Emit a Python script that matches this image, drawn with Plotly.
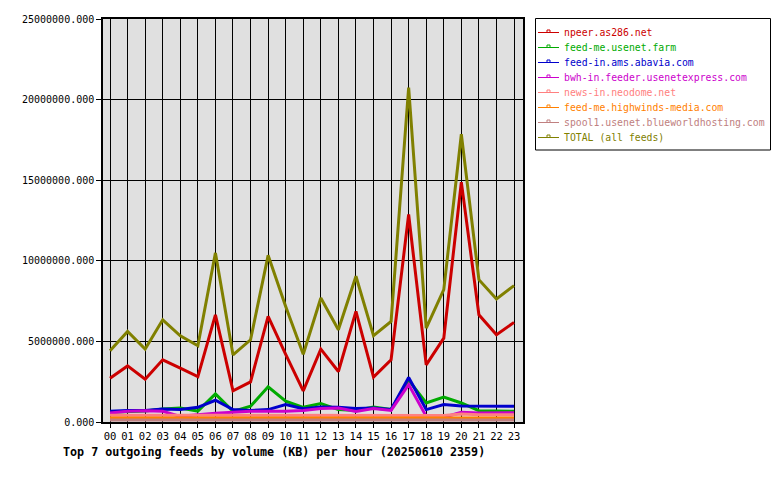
import plotly.graph_objects as go

hours = [f"{h:02d}" for h in range(24)]

names = [
    "npeer.as286.net",
    "feed-me.usenet.farm",
    "feed-in.ams.abavia.com",
    "bwh-in.feeder.usenetexpress.com",
    "news-in.neodome.net",
    "feed-me.highwinds-media.com",
    "spool1.usenet.blueworldhosting.com",
    "TOTAL (all feeds)",
]
colors = ["#cc0000", "#00aa00", "#0000cc", "#cc00cc", "#ff8080", "#ff8000", "#c08080", "#808000"]

npeer = [2.72, 3.48, 2.65, 3.86, 3.34, 2.82, 6.65, 1.93, 2.49, 6.55, 4.2, 1.93,
         4.52, 3.13, 6.86, 2.78, 3.86, 12.87, 3.54, 5.2, 14.88, 6.65, 5.41, 6.18]
usenet_farm = [0.6, 0.66, 0.68, 0.8, 0.87, 0.68, 1.74, 0.66, 0.98, 2.18, 1.29, 0.91,
               1.14, 0.77, 0.72, 0.93, 0.77, 2.6, 1.18, 1.54, 1.18, 0.7, 0.66, 0.66]
abavia = [0.66, 0.72, 0.72, 0.81, 0.77, 0.91, 1.35, 0.77, 0.72, 0.77, 1.08, 0.83,
          0.93, 0.91, 0.83, 0.87, 0.77, 2.76, 0.77, 1.08, 1.0, 0.98, 0.98, 0.98]
usenetexpress = [0.56, 0.66, 0.7, 0.66, 0.35, 0.45, 0.55, 0.6, 0.66, 0.66, 0.66, 0.72,
                 0.83, 0.87, 0.66, 0.83, 0.72, 2.32, 0.35, 0.3, 0.6, 0.56, 0.58, 0.58]
neodome = [0.42, 0.42, 0.45, 0.45, 0.42, 0.45, 0.45, 0.45, 0.45, 0.45, 0.45, 0.45,
           0.45, 0.43, 0.43, 0.45, 0.45, 0.43, 0.41, 0.41, 0.5, 0.45, 0.45, 0.45]
highwinds = [0.25, 0.25, 0.24, 0.23, 0.25, 0.24, 0.26, 0.25, 0.24, 0.25, 0.25, 0.24,
             0.25, 0.24, 0.25, 0.25, 0.24, 0.26, 0.25, 0.24, 0.24, 0.25, 0.24, 0.25]
blueworld = [0.12, 0.12, 0.12, 0.12, 0.12, 0.12, 0.12, 0.12, 0.12, 0.12, 0.12, 0.12,
             0.12, 0.12, 0.12, 0.12, 0.12, 0.12, 0.12, 0.12, 0.12, 0.12, 0.12, 0.12]
total = [4.42, 5.62, 4.52, 6.34, 5.35, 4.73, 10.49, 4.17, 5.1, 10.34, 7.17, 4.2,
         7.69, 5.72, 9.04, 5.35, 6.24, 20.75, 5.83, 8.21, 17.85, 8.83, 7.63, 8.46]

series = [npeer, usenet_farm, abavia, usenetexpress, neodome, highwinds, blueworld, total]
yticks = [0, 5000000, 10000000, 15000000, 20000000, 25000000]
title = "Top 7 outgoing feeds by volume (KB) per hour (20250610 2359)"

MONO = "DejaVu Sans Mono, Liberation Mono, monospace"

fig = go.Figure()
for name, col, vals in zip(names, colors, series):
    fig.add_trace(go.Scatter(
        x=hours, y=[v * 1e6 for v in vals], mode="lines", name=name,
        line=dict(color=col, width=3), showlegend=False,
    ))

# plot area pixels: x 103..523, y 19..422
L, R, T, B = 103, 523, 19, 422
def px(xp):
    return (xp - L) / (R - L)
def py(yp):
    return (B - yp) / (B - T)

shapes = []
annotations = []
# legend box
shapes.append(dict(type="rect", xref="paper", yref="paper",
                   x0=px(535.5), x1=px(770.5), y0=py(150), y1=py(18.5),
                   line=dict(color="black", width=1), fillcolor="white", layer="above"))
for i, (name, col) in enumerate(zip(names, colors)):
    yy = 32.5 + 15 * i
    shapes.append(dict(type="line", xref="paper", yref="paper",
                       x0=px(538), x1=px(559), y0=py(yy), y1=py(yy),
                       line=dict(color=col, width=1), layer="above"))
    shapes.append(dict(type="rect", xref="paper", yref="paper",
                       x0=px(547), x1=px(550), y0=py(yy), y1=py(yy - 2.5),
                       line=dict(color=col, width=1), fillcolor="white", layer="above"))
    annotations.append(dict(xref="paper", yref="paper", x=px(561.5), y=py(yy),
                            xanchor="left", yanchor="middle", showarrow=False,
                            text=name, font=dict(family=MONO, size=9.8, color=col)))

annotations.append(dict(xref="paper", yref="paper", x=px(61), y=py(452),
                        xanchor="left", yanchor="middle", showarrow=False,
                        text="<b>" + title + "</b>",
                        font=dict(family=MONO, size=11.7, color="black")))

fig.update_layout(
    width=780, height=480,
    margin=dict(l=L, r=780 - R, t=T, b=480 - B, pad=0),
    paper_bgcolor="white", plot_bgcolor="#e0e0e0",
    font=dict(family=MONO, size=10, color="black"),
    shapes=shapes, annotations=annotations,
    xaxis=dict(type="category", range=[-0.4, 23.51], showgrid=True, gridcolor="black",
               gridwidth=1, showline=True, linecolor="black", linewidth=1.5, mirror=True,
               ticks="outside", ticklen=4, tickcolor="black", tickwidth=1,
               tickfont=dict(family=MONO, size=10.5), zeroline=False),
    yaxis=dict(range=[0, 25000000], tickvals=yticks, tickformat=".3f",
               showgrid=True, gridcolor="black", gridwidth=1, showline=True,
               linecolor="black", linewidth=1.5, mirror=True, ticks="outside",
               ticklen=5, tickcolor="black", tickwidth=1, zeroline=False,
               tickfont=dict(family=MONO, size=10)),
)

fig.write_html("out.html")
